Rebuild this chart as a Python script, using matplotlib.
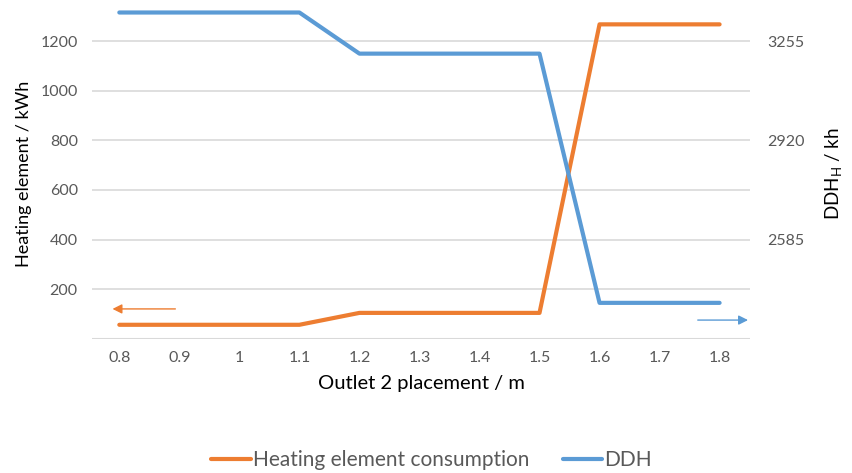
import numpy as np
import matplotlib.pyplot as plt

# outlet 2 height categories and the two result series
placements = ['0.8', '0.9', '1', '1.1', '1.2', '1.3', '1.4', '1.5', '1.6', '1.7', '1.8']
heater_kwh = [56, 56, 56, 56, 104, 104, 104, 104, 1268, 1268, 1268]
ddh_kh = [3352, 3352, 3352, 3352, 3213, 3213, 3213, 3213, 2371, 2371, 2371]
left_ticks = [200, 400, 600, 800, 1000, 1200]
right_ticks = [2585, 2920, 3255]

ORANGE = '#ED7D31'
BLUE = '#5B9BD5'
GREY = '#595959'
GRID = '#D9D9D9'

plt.rcParams['font.family'] = ['Lato', 'DejaVu Sans']

fig = plt.figure(figsize=(8.53, 4.73), dpi=100)
ax = fig.add_axes([0.1075, 0.284, 0.772, 0.697])
ax2 = ax.twinx()

x = np.arange(len(placements))
left_top = 1330
# right axis is tied to the left one: 335 kh per 400 kWh, 2250 at zero
scale = 335 / 400
ax.set_ylim(0, left_top)
ax2.set_ylim(2250, 2250 + left_top * scale)
ax.set_xlim(-0.46, len(placements) - 0.49)

l1, = ax.plot(x, heater_kwh, color=ORANGE, lw=3, solid_capstyle='round',
              label='Heating element consumption', zorder=3)
l2, = ax2.plot(x, ddh_kh, color=BLUE, lw=3, solid_capstyle='round',
               label='DDH', zorder=3)

ax.set_yticks(left_ticks)
ax2.set_yticks(right_ticks)
ax.set_xticks(x)
ax.set_xticklabels(placements)
ax.grid(axis='y', color=GRID, lw=1.2)
ax.axhline(0, color=GRID, lw=1.5, zorder=2)

for a in (ax, ax2):
    for s in a.spines.values():
        s.set_visible(False)
    a.tick_params(length=0, colors=GREY, labelsize=11.5)
ax.tick_params(axis='x', pad=9)
ax.tick_params(axis='y', pad=10)
ax2.tick_params(axis='y', pad=12)

ax.set_ylabel('Heating element / kWh', fontsize=13, color='black', labelpad=6)
ax2.set_ylabel(r'DDH$_\mathregular{H}$ / kh', fontsize=13.5, color='black', labelpad=14)
ax.set_xlabel('Outlet 2 placement / m', fontsize=14.5, color='black', labelpad=7)

# arrows pointing to each series' axis
ax.annotate('', xy=(-0.16, 120), xytext=(0.98, 120),
            arrowprops=dict(arrowstyle='-|>', color=ORANGE, lw=1,
                            mutation_scale=14))
ax.annotate('', xy=(10.52, 75), xytext=(9.59, 75),
            arrowprops=dict(arrowstyle='-|>', color=BLUE, lw=1,
                            mutation_scale=14),
            annotation_clip=False)

leg = fig.legend(handles=[l1, l2], loc='center', bbox_to_anchor=(0.506, 0.027),
                 ncol=2, frameon=False, fontsize=15, handlelength=1.9,
                 handletextpad=0.1, columnspacing=1.6)
for t in leg.get_texts():
    t.set_color(GREY)

fig.savefig('out.png', dpi=100)
